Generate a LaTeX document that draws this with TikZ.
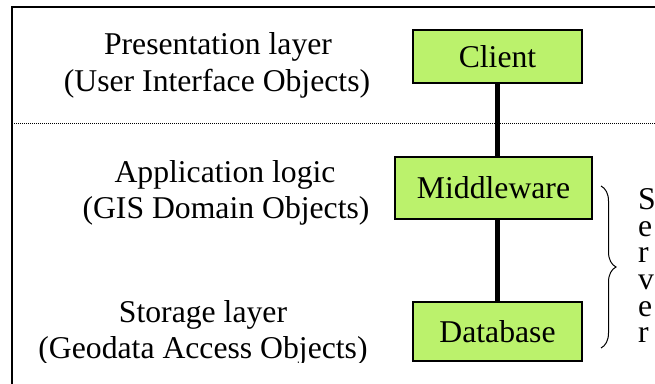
\documentclass[tikz,border=0pt]{standalone}
\usepackage{fontspec}
\setmainfont{Liberation Serif}
\usetikzlibrary{decorations.pathreplacing}
\definecolor{boxgreen}{RGB}{187,242,108}
\tikzset{
  tier/.style={draw=black, line width=1.8pt, fill=boxgreen, inner sep=0pt,
    font=\fontsize{31.7}{38}\selectfont},
  label/.style={anchor=base, inner sep=0pt, font=\fontsize{31.7}{38}\selectfont},
  stacked/.style={anchor=north west, inner sep=0pt, align=left,
    font=\fontsize{31.7}{26.6}\selectfont},
  link/.style={line width=5pt},
}
\begin{document}
\begin{tikzpicture}[x=1pt,y=-1pt]
\useasboundingbox (0,0) rectangle (655,383);
% outer frame (only its top and left sides fall on the page)
\draw[line width=1.4pt] (12,400) -- (12,7) -- (660,7);
% separator between presentation and server tiers
\draw[line width=0.8pt, dash pattern=on 1pt off 1pt] (12,123) -- (655,123);

% tier boxes
\node[tier, minimum width=169pt, minimum height=53pt] (client) at (497.5,56.5) {Client};
\node[tier, minimum width=197.5pt, minimum height=62pt] (mid) at (493.5,188) {Middleware};
\node[tier, minimum width=169pt, minimum height=59pt] (db) at (497.5,331.5) {Database};

% connectors
\draw[link] (client.south) -- (client.south |- mid.north);
\draw[link] (db.north) -- (db.north |- mid.south);

% layer descriptions
\node[label] (pres) at (218,54) {Presentation layer};
\node[label] (presobj) at (217,91) {(User Interface Objects)};
\node[label] (app) at (225,182) {Application logic};
\node[label] (appobj) at (226,218) {(GIS Domain Objects)};
\node[label] (stor) at (203,322) {Storage layer};
\begin{scope}
  \clip (0,0) rectangle (400,362);
  \node[label] (storobj) at (203,358.5) {(Geodata Access Objects)};
\end{scope}

% server brace and its vertical label
\draw[line width=1pt, decorate, decoration={brace, amplitude=15pt}]
  (601,186) -- (601,348);
\node[stacked] (server) at (638,188.5) {S\\e\\r\\v\\e\\r};
\end{tikzpicture}
\end{document}
